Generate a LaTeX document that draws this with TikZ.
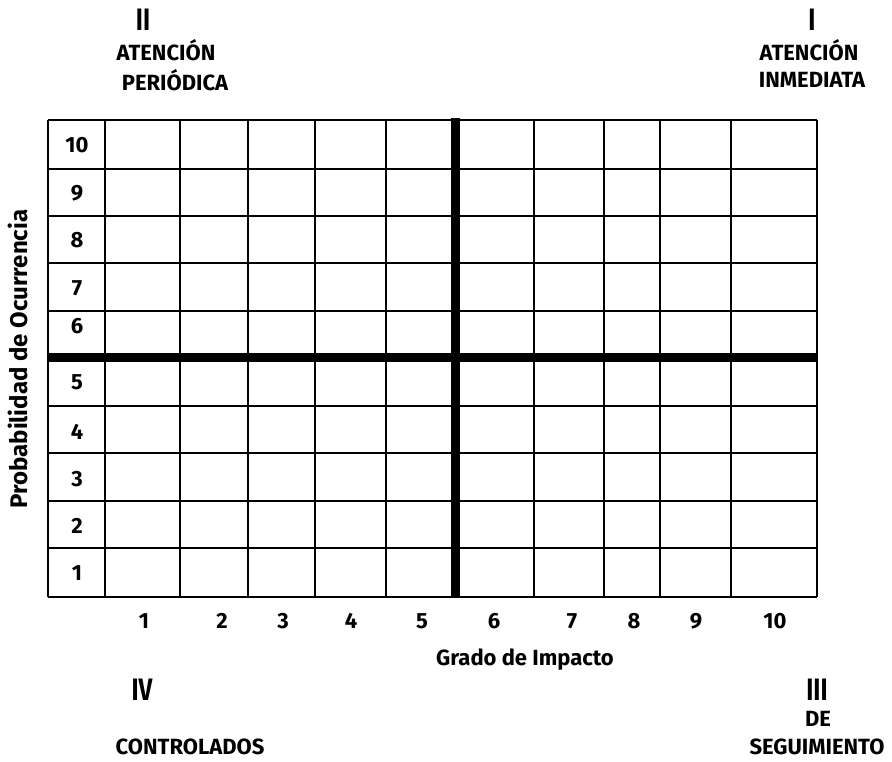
\documentclass[tikz,border=0pt]{standalone}
\usepackage{fontspec}
\setmainfont{Fira Sans}
\begin{document}
\begin{tikzpicture}[x=1pt,y=-1pt,
  lbl/.style={font=\fontsize{22}{24}\selectfont\bfseries, inner sep=0pt},
  roman/.style={font=\fontsize{31}{33}\selectfont\bfseries, inner sep=0pt, xscale=0.78},
  num/.style={font=\fontsize{22}{24}\selectfont\bfseries, inner sep=0pt},
  axis/.style={font=\fontsize{22}{24}\selectfont\bfseries, inner sep=0pt},
  yaxis/.style={font=\fontsize{24}{26}\selectfont\bfseries, inner sep=0pt},
  thin/.style={line width=1.5pt},
  thick line/.style={line width=9pt}]
\useasboundingbox (0,0) rectangle (892,761);
% grid lines
\foreach \y in {169,216,263,311,406,453,501,548}
  \draw[thin] (48,\y) -- (817,\y);
\draw[thin] (48,120) -- (817,120);
\draw[thin] (48,597) -- (817,597);
\draw[thin] (48,120) -- (48,597);
\draw[line width=2.5pt] (105,120) -- (105,597);
\foreach \x in {180,248,315,386,534,604,660,731,817}
  \draw[thin] (\x,120) -- (\x,597);
\draw[thick line] (48,357) -- (817,357);
\draw[thick line] (455,118) -- (455,597);
% row labels
\node[num] (r10) at (77,145) {10};
\node[num] (r9) at (77,193) {9};
\node[num] (r8) at (77,240) {8};
\node[num] (r7) at (77,288) {7};
\node[num] (r6) at (77,326) {6};
\node[num] (r5) at (77,382) {5};
\node[num] (r4) at (77,432) {4};
\node[num] (r3) at (77,479) {3};
\node[num] (r2) at (77,526) {2};
\node[num] (r1) at (77,573) {1};
% column labels
\node[num] (c1) at (144,621) {1};
\node[num] (c2) at (222,621) {2};
\node[num] (c3) at (283,621) {3};
\node[num] (c4) at (351,621) {4};
\node[num] (c5) at (422,621) {5};
\node[num] (c6) at (494,621) {6};
\node[num] (c7) at (572,621) {7};
\node[num] (c8) at (634,621) {8};
\node[num] (c9) at (696,621) {9};
\node[num] (c10) at (775,621) {10};
% axis titles
\node[axis] (xt) at (525,660) {Grado de Impacto};
\node[yaxis, rotate=90] (yt) at (18,359) {Probabilidad de Ocurrencia};
% quadrant labels
\node[roman] (q2) at (143,20) {II};
\node[lbl] (q2a) at (166,50) {ATENCIÓN};
\node[lbl] (q2b) at (175,80) {PERIÓDICA};
\node[roman] (q1) at (812,20) {I};
\node[lbl] (q1a) at (809,50) {ATENCIÓN};
\node[lbl] (q1b) at (812,80) {INMEDIATA};
\node[roman] (q4) at (142,690) {IV};
\node[lbl] (q4a) at (190,747) {CONTROLADOS};
\node[roman] (q3) at (817,690) {III};
\node[lbl] (q3a) at (818,719) {DE};
\node[lbl] (q3b) at (817,747) {SEGUIMIENTO};
\end{tikzpicture}
\end{document}
